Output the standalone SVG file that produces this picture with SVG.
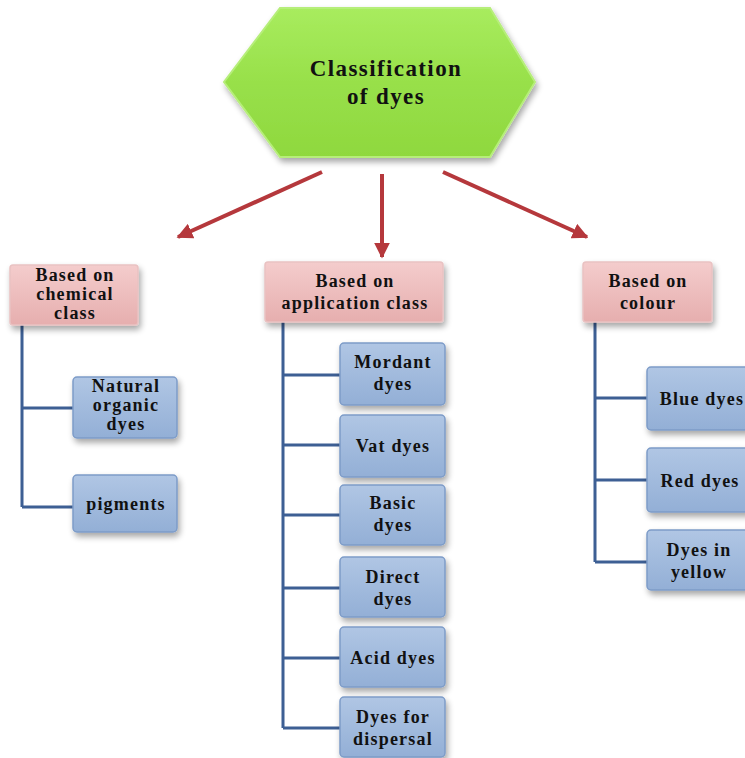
<svg xmlns="http://www.w3.org/2000/svg" width="745" height="758" viewBox="0 0 745 758">
<defs>
<linearGradient id="gGreen" x1="0" y1="0" x2="0" y2="1">
<stop offset="0" stop-color="#a8ec5e"/><stop offset="0.5" stop-color="#98e04a"/><stop offset="1" stop-color="#8fd83e"/>
</linearGradient>
<linearGradient id="gPink" x1="0" y1="0" x2="0" y2="1">
<stop offset="0" stop-color="#f4cccc"/><stop offset="1" stop-color="#e6aeae"/>
</linearGradient>
<linearGradient id="gBlue" x1="0" y1="0" x2="0" y2="1">
<stop offset="0" stop-color="#b0c6e4"/><stop offset="1" stop-color="#93afd6"/>
</linearGradient>
<filter id="sh" x="-20%" y="-20%" width="140%" height="150%">
<feGaussianBlur in="SourceAlpha" stdDeviation="3"/>
<feOffset dx="2" dy="4" result="b"/>
<feComponentTransfer><feFuncA type="linear" slope="0.35"/></feComponentTransfer>
<feMerge><feMergeNode/><feMergeNode in="SourceGraphic"/></feMerge>
</filter>
<marker id="ah" viewBox="0 0 10 10" refX="9" refY="5" markerWidth="4" markerHeight="4" orient="auto" markerUnits="strokeWidth">
<path d="M0,0 L10,5 L0,10 z" fill="#b5383c"/>
</marker>
</defs>
<style>
text{font-weight:bold;fill:#111;text-anchor:middle;font-size:18px;letter-spacing:1.2px}
.h{font-size:23px;letter-spacing:1.4px}
.pink{fill:url(#gPink);stroke:#e9c2c2;stroke-width:1.5}
.blue{fill:url(#gBlue);stroke:#7d9cc8;stroke-width:1.5}
.ln{stroke:#3d5f94;stroke-width:3;fill:none}
.ar{stroke:#b5383c;stroke-width:4;fill:none}
</style>
<rect width="745" height="758" fill="#ffffff"/>

<g id="connectors">
<line class="ar" x1="322" y1="172" x2="178" y2="237" marker-end="url(#ah)"/>
<line class="ar" x1="382" y1="174" x2="382" y2="257" marker-end="url(#ah)"/>
<line class="ar" x1="443" y1="172" x2="587" y2="237" marker-end="url(#ah)"/>
<path class="ln" d="M22,325 V507 M22,408 H73 M22,507 H73"/>
<path class="ln" d="M283,322 V728 M283,375 H340 M283,445 H340 M283,515 H340 M283,588 H340 M283,658 H340 M283,728 H340"/>
<path class="ln" d="M595,322 V562 M595,398 H647 M595,480 H647 M595,562 H647"/>
</g>

<g font-family="Liberation Serif, Times New Roman, Tinos, DejaVu Serif, serif">
<g id="root">
<polygon points="280,8 490,8 535,82 490,157 280,157 224,82" fill="url(#gGreen)" stroke="#b6ee7a" stroke-width="2" filter="url(#sh)"/>
<text class="h" x="386" y="76">Classification</text>
<text class="h" x="386" y="104">of dyes</text>
</g>

<g id="chemical">
<rect class="pink" x="10" y="265" width="128" height="60" rx="3" filter="url(#sh)"/>
<text x="75" y="281">Based on</text>
<text x="75" y="300">chemical</text>
<text x="75" y="319">class</text>
</g>
<g id="natural">
<rect class="blue" x="73" y="377" width="104" height="61" rx="4" filter="url(#sh)"/>
<text x="126" y="392">Natural</text>
<text x="126" y="411">organic</text>
<text x="126" y="430">dyes</text>
</g>
<g id="pigments">
<rect class="blue" x="73" y="475" width="104" height="57" rx="4" filter="url(#sh)"/>
<text x="126" y="510">pigments</text>
</g>

<g id="application">
<rect class="pink" x="265" y="262" width="178" height="60" rx="3" filter="url(#sh)"/>
<text x="355" y="287">Based on</text>
<text x="355" y="309">application class</text>
</g>
<g id="mordant">
<rect class="blue" x="340" y="343" width="105" height="62" rx="4" filter="url(#sh)"/>
<text x="393" y="368">Mordant</text>
<text x="393" y="390">dyes</text>
</g>
<g id="vat">
<rect class="blue" x="340" y="415" width="105" height="62" rx="4" filter="url(#sh)"/>
<text x="393" y="452">Vat dyes</text>
</g>
<g id="basic">
<rect class="blue" x="340" y="485" width="105" height="60" rx="4" filter="url(#sh)"/>
<text x="393" y="509">Basic</text>
<text x="393" y="531">dyes</text>
</g>
<g id="direct">
<rect class="blue" x="340" y="557" width="105" height="60" rx="4" filter="url(#sh)"/>
<text x="393" y="583">Direct</text>
<text x="393" y="605">dyes</text>
</g>
<g id="acid">
<rect class="blue" x="340" y="627" width="105" height="60" rx="4" filter="url(#sh)"/>
<text x="393" y="664">Acid dyes</text>
</g>
<g id="dispersal">
<rect class="blue" x="340" y="697" width="105" height="60" rx="4" filter="url(#sh)"/>
<text x="393" y="723">Dyes for</text>
<text x="393" y="745">dispersal</text>
</g>

<g id="colour">
<rect class="pink" x="583" y="262" width="129" height="60" rx="3" filter="url(#sh)"/>
<text x="648" y="287">Based on</text>
<text x="648" y="309">colour</text>
</g>
<g id="blue">
<rect class="blue" x="647" y="367" width="112" height="63" rx="4" filter="url(#sh)"/>
<text x="702" y="405">Blue dyes</text>
</g>
<g id="red">
<rect class="blue" x="647" y="448" width="112" height="64" rx="4" filter="url(#sh)"/>
<text x="700" y="487">Red dyes</text>
</g>
<g id="yellow">
<rect class="blue" x="647" y="530" width="112" height="60" rx="4" filter="url(#sh)"/>
<text x="699" y="556">Dyes in</text>
<text x="699" y="578">yellow</text>
</g>
</g>
</svg>
